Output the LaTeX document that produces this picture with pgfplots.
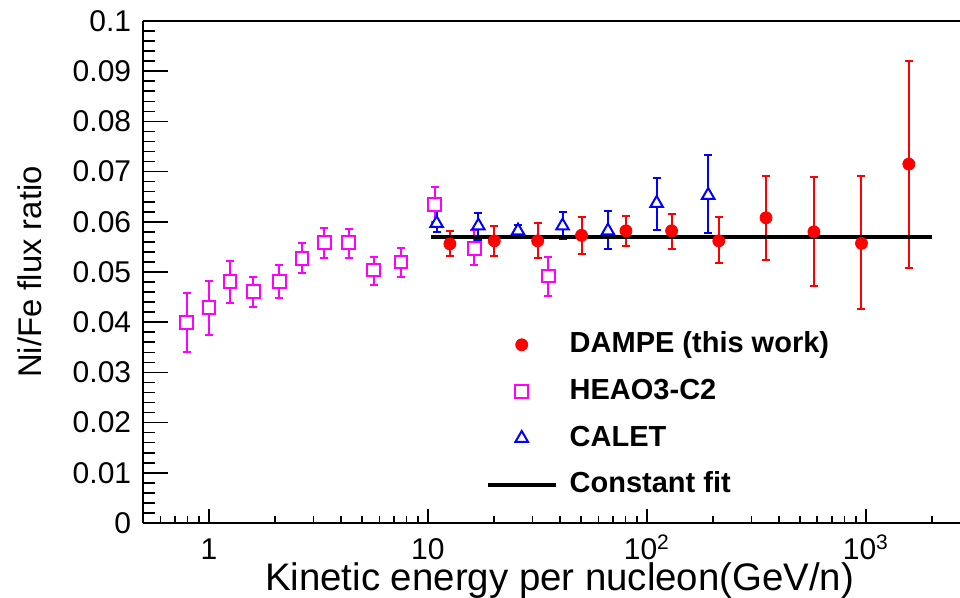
\documentclass[border=0pt]{standalone}
\usepackage{pgfplots}
\usepackage{pgfplotstable}
\pgfplotsset{compat=1.18}
\usepackage{fontspec}
\setmainfont{Liberation Sans}

\pgfplotstableread{
x      y       ep      em
12.6   0.0556  0.0025  0.0025
20.1   0.0562  0.0029  0.0030
31.7   0.0562  0.0036  0.0035
50.3   0.0573  0.0036  0.0037
80.2   0.0582  0.0030  0.0031
129.7  0.0582  0.0034  0.0037
213    0.0562  0.0047  0.0045
350    0.0608  0.0084  0.0084
579    0.0580  0.0109  0.0108
955    0.0557  0.0134  0.0131
1571   0.0715  0.0206  0.0208
}\dampe

\pgfplotstableread{
x      y       ep      em
0.793  0.0400  0.0059  0.0059
1.0    0.0429  0.0053  0.0055
1.247  0.0481  0.0041  0.0042
1.593  0.0461  0.0030  0.0030
2.10   0.0481  0.0032  0.0032
2.66   0.0527  0.0030  0.0030
3.37   0.0558  0.0030  0.0031
4.34   0.0558  0.0028  0.0031
5.65   0.0504  0.0026  0.0029
7.53   0.0520  0.0028  0.0030
10.73  0.0635  0.0035  0.0035
16.3   0.0546  0.0038  0.0033
35.4   0.0492  0.0037  0.0040
}\heao

\pgfplotstableread{
x      y       ep      em
10.96  0.0597  0.0024  0.0018
17.0   0.0592  0.0026  0.0028
25.8   0.0582  0.0012  0.0009
41.2   0.0592  0.0028  0.0027
66.4   0.0582  0.0040  0.0037
110.8  0.0637  0.0051  0.0053
190.5  0.0653  0.0081  0.0076
}\calet

\definecolor{rootred}{RGB}{255,0,0}
\definecolor{rootmag}{RGB}{255,0,255}
\definecolor{rootblue}{RGB}{0,0,255}

\begin{document}
\begin{tikzpicture}
\begin{axis}[
  at={(0pt,0pt)}, anchor=south west,
  scale only axis,
  width=408.5pt, height=251pt,
  xmode=log,
  xmin=0.5, xmax=2690,
  ymin=0, ymax=0.1,
  axis y line*=left,
  tick pos=left,
  axis line style={line width=1pt, black},
  every tick/.style={black, line width=0.8pt},
  major tick length=12.5pt,
  minor tick length=6pt,
  xtick style={/pgfplots/major tick length=7pt, /pgfplots/minor tick length=3.5pt},
  xtick={1,10,100,1000},
  xticklabels={1,10,10\textsuperscript{2},10\textsuperscript{3}},
  minor xtick={0.5,0.6,0.7,0.8,0.9,2,3,4,5,6,7,8,9,20,30,40,50,60,70,80,90,200,300,400,500,600,700,800,900,2000},
  ytick={0,0.01,0.02,0.03,0.04,0.05,0.06,0.07,0.08,0.09,0.1},
  yticklabels={0,0.01,0.02,0.03,0.04,0.05,0.06,0.07,0.08,0.09,0.1},
  minor y tick num=4,
  tick label style={font=\fontsize{15pt}{18pt}\selectfont},
  x tick label style={anchor=north, inner sep=0pt, text height=14pt, text depth=0pt, yshift=-4.2pt},
  y tick label style={xshift=-2.4pt},
  xlabel={Kinetic energy per nucleon(GeV/n)},
  ylabel={Ni/Fe flux ratio},
  xlabel style={font=\fontsize{19.2pt}{22pt}\selectfont, at={(axis description cs:0.51,0)}, anchor=base, yshift=-34pt},
  ylabel style={font=\fontsize{16.4pt}{20pt}\selectfont, at={(axis description cs:-0.1239,0.5)}, anchor=base, rotate=0},
  legend image code/.code={\draw[mark repeat=2,mark phase=2,#1] plot coordinates {(0pt,0pt) (17pt,0pt) (34pt,0pt)};},
  legend style={draw=none, fill=none, at={(0.419,0.3837)}, anchor=north west,
    font=\bfseries\fontsize{14.5pt}{17pt}\selectfont,
    inner sep=0pt, row sep=9.35pt,
    nodes={inner sep=0pt, text height=11pt, text depth=3pt},
    /tikz/every odd column/.append style={column sep=6pt}},
  legend cell align=left,
  error bars/error bar style={line width=1pt},
  error bars/error mark options={line width=1pt, mark size=2pt, rotate=90},
]
\addplot+[only marks, rootred, mark=*, mark size=3pt, mark options={fill=rootred, draw=rootred},
  error bars/.cd, y dir=both, y explicit]
  table[x=x, y=y, y error plus=ep, y error minus=em] {\dampe};
\addlegendentry{DAMPE (this work)}
\addplot+[only marks, rootmag, mark=square*, mark size=3.2pt, mark options={fill=white, draw=rootmag, line width=1pt},
  error bars/.cd, y dir=both, y explicit]
  table[x=x, y=y, y error plus=ep, y error minus=em] {\heao};
\addlegendentry{HEAO3-C2}
\addplot+[only marks, rootblue, mark=triangle*, mark size=3.6pt, mark options={fill=white, draw=rootblue, line width=1pt},
  error bars/.cd, y dir=both, y explicit]
  table[x=x, y=y, y error plus=ep, y error minus=em] {\calet};
\addlegendentry{CALET}
\addplot[black, line width=2pt, no markers] coordinates {(10.3,0.0569) (2000,0.0569)};
\addlegendentry{Constant fit}
\end{axis}
\pgfresetboundingbox
\path[use as bounding box] (-71.5pt,-37.5pt) rectangle (408.5pt,261.5pt);
\end{tikzpicture}
\end{document}
